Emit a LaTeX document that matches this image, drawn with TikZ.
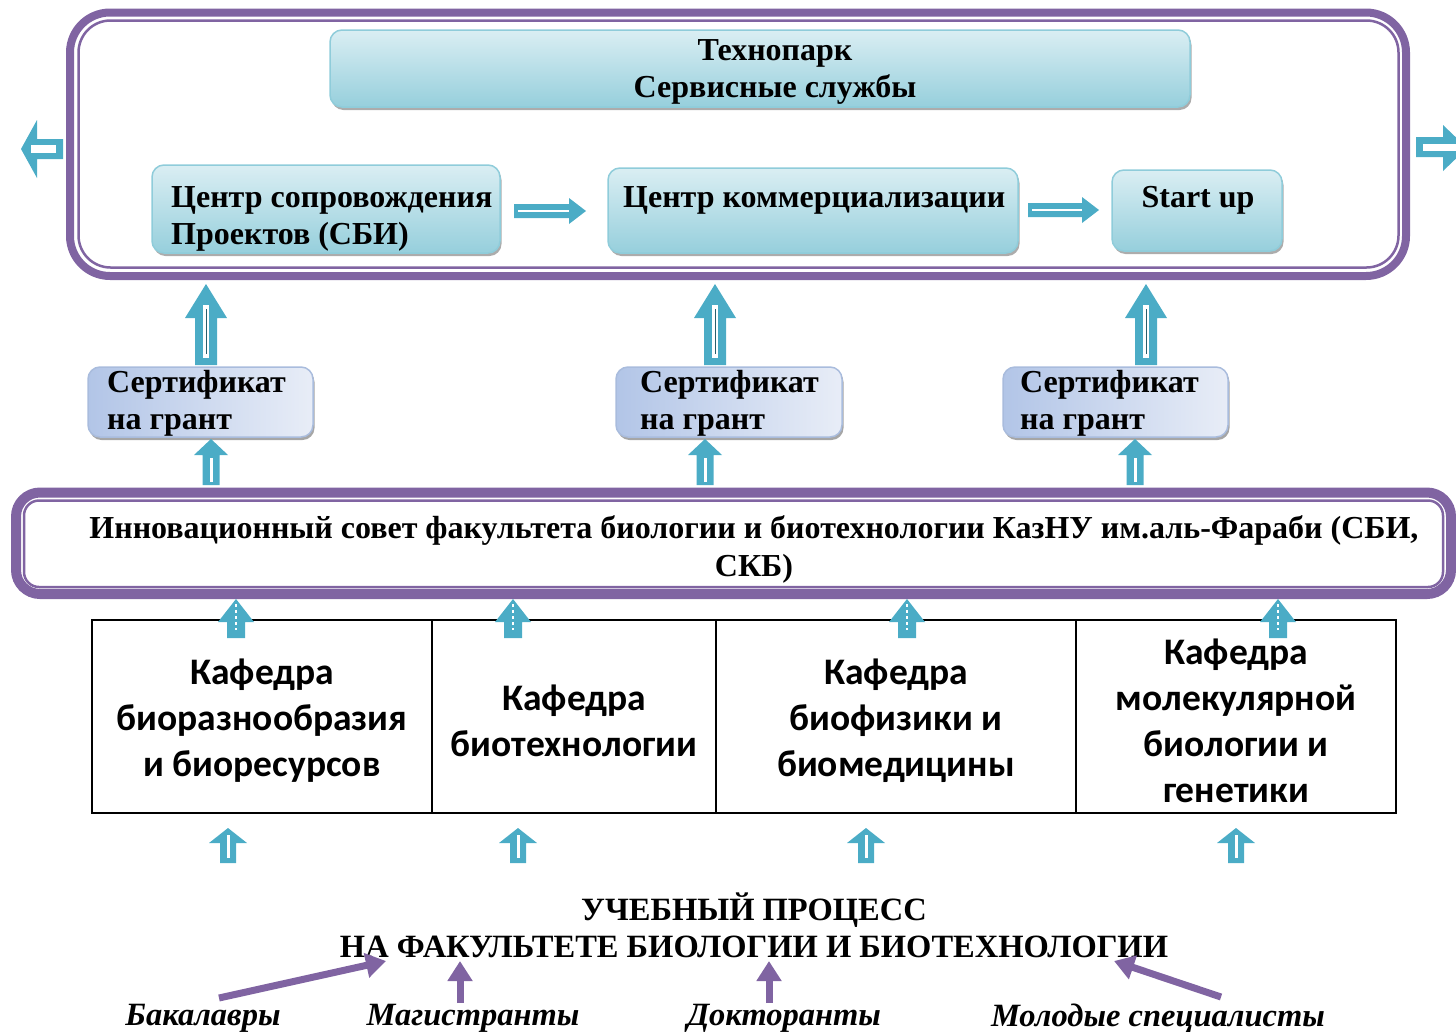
\documentclass[tikz,border=0pt]{standalone}
\usepackage{fontspec}
\setmainfont{Liberation Serif}
\newfontfamily\kafont{Carlito}
\usetikzlibrary{shadows,arrows.meta,calc}
\definecolor{purp}{HTML}{8064A2}
\definecolor{arrc}{HTML}{4BACC6}
\definecolor{tbord}{HTML}{8FCCDA}
\definecolor{tlight}{HTML}{DAEEF3}
\definecolor{tdark}{HTML}{96CFDC}
\definecolor{cbord}{HTML}{A9BCDD}
\definecolor{clight}{HTML}{E8EDF7}
\definecolor{cdark}{HTML}{B2C5E7}
% up block arrow: x, ytip, yheadbase, ybottom, halfhead, halfshaft
\newcommand\ArrUp[6]{\fill[arrc] ({#1-#6},#4) -- ({#1-#6},#3) -- ({#1-#5},#3) -- (#1,#2) -- ({#1+#5},#3) -- ({#1+#6},#3) -- ({#1+#6},#4) -- cycle;}
% right block arrow: xstart, xheadbase, xtip, y, halfhead, halfshaft
\newcommand\ArrRt[6]{\fill[arrc] (#1,{#4-#6}) -- (#2,{#4-#6}) -- (#2,{#4-#5}) -- (#3,#4) -- (#2,{#4+#5}) -- (#2,{#4+#6}) -- (#1,{#4+#6}) -- cycle;}
\begin{document}
\begin{tikzpicture}[x=1pt,y=-1pt,
  serif/.style={font=\fontsize{32}{37}\selectfont\bfseries, inner sep=0pt},
  tbox/.style={rounded corners=12pt, draw=tbord, line width=1.5pt,
     top color=tlight, middle color=tlight, bottom color=tdark,
     drop shadow={shadow xshift=1.5pt, shadow yshift=-3pt, opacity=1, fill=gray!65}},
  cbox/.style={rounded corners=12pt, draw=cbord, line width=1.5pt,
     left color=cdark, right color=clight,
     drop shadow={shadow xshift=1.5pt, shadow yshift=-3pt, opacity=1, fill=gray!70}},
  kcell/.style={draw=black, line width=2pt, minimum height=193pt, inner sep=0pt},
  ktext/.style={align=center, inner sep=0pt, font=\kafont\fontsize{37.5}{46}\selectfont\bfseries},
  parr/.style={draw=purp, line width=7pt, -{Triangle[length=20pt,width=24pt]}},
  lbl/.style={font=\fontsize{32.5}{37}\selectfont\bfseries\itshape, inner sep=0pt}
]
\useasboundingbox (0,0) rectangle (1456,1031);
% ---------- outer frame
\draw[purp, line width=8pt, rounded corners=40pt] (70,12.5) rectangle (1406,276);
\draw[purp, line width=2.5pt, rounded corners=32pt] (78.5,20.5) rectangle (1398.5,267.5);
% side arrows
\fill[arrc] (21,149) -- (37,120) -- (37,139) -- (63,139) -- (63,159) -- (37,159) -- (37,178) -- cycle;
\fill[white] (31,145) rectangle (56,153);
\fill[arrc] (1416,137) -- (1443,137) -- (1443,125) -- (1467,148) -- (1443,171) -- (1443,157) -- (1416,157) -- cycle;
\fill[white] (1423,143.5) rectangle (1460,150.5);
% ---------- top boxes
\node[tbox, minimum width=860pt, minimum height=77pt] (tp) at (760,68.5) {};
\node[serif, align=center] (tpt) at (775,72) {Технопарк\\Сервисные службы};
\node[tbox, minimum width=348pt, minimum height=88pt] (b1) at (326,209) {};
\node[serif, align=left, anchor=west] (b1t) at (171,219) {Центр сопровождения\\Проектов (СБИ)};
\node[tbox, minimum width=410pt, minimum height=85pt] (b2) at (813,210.5) {};
\node[serif, anchor=west] (b2t) at (623,200) {Центр коммерциализации};
\node[tbox, minimum width=170pt, minimum height=81pt] (b3) at (1197,210.5) {};
\node[serif] (b3t) at (1198,200) {Start up};
\ArrRt{514}{569}{586}{211}{13}{7}
\draw[white, line width=2.5pt] (518,211) -- (569,211);
\ArrRt{1028}{1082}{1099}{210}{13}{7}
\draw[white, line width=2.5pt] (1032,210) -- (1082,210);
% ---------- big up arrows
\foreach \xx in {206,715,1146}{
  \ArrUp{\xx}{284}{318}{365}{21}{11}
  \fill[white] ({\xx-3},305) rectangle ({\xx+3},358);
  \draw[arrc!55!black, line width=0.8pt] (\xx,309) -- (\xx,354);
}
% ---------- certificate boxes
\node[cbox, minimum width=225pt, minimum height=70pt] (c1) at (200.5,402) {};
\node[serif, align=left, anchor=west] (c1t) at (107,403) {Сертификат\\на грант};
\node[cbox, minimum width=226pt, minimum height=70pt] (c2) at (729,402) {};
\node[serif, align=left, anchor=west] (c2t) at (640,403) {Сертификат\\на грант};
\node[cbox, minimum width=225pt, minimum height=70pt] (c3) at (1115.5,402) {};
\node[serif, align=left, anchor=west] (c3t) at (1020,403) {Сертификат\\на грант};
% small up arrows
\foreach \xx in {211,705,1135}{
  \ArrUp{\xx}{439}{455}{485}{17}{8.5}
  \fill[white] ({\xx-1.5},458) rectangle ({\xx+1.5},482);
}
% ---------- innovation council frame
\draw[purp, line width=10pt, rounded corners=24pt] (16,492.5) rectangle (1451,594);
\draw[purp, line width=2.5pt, rounded corners=15pt] (24,500.5) rectangle (1443,587);
\node[serif, align=center, font=\fontsize{32}{38}\selectfont\bfseries] (inn) at (754,549)
  {Инновационный совет факультета биологии и биотехнологии КазНУ им.аль-Фараби (СБИ,\\СКБ)};
% ---------- departments
\node[kcell, minimum width=340pt] (k1) at (262,716.5) {};
\node[kcell, minimum width=284pt] (k2) at (574,716.5) {};
\node[kcell, minimum width=360pt] (k3) at (896,716.5) {};
\node[kcell, minimum width=320pt] (k4) at (1236,716.5) {};
\node[ktext] (k1t) at (262,721) {Кафедра\\биоразнообразия\\и биоресурсов};
\node[ktext] (k2t) at (574,721) {Кафедра\\биотехнологии};
\node[ktext] (k3t) at (896,721) {Кафедра\\биофизики и\\биомедицины};
\node[ktext] (k4t) at (1236,721) {Кафедра\\молекулярной\\биологии и\\генетики};
\foreach \xx in {236,513,907,1278}{
  \ArrUp{\xx}{599}{622}{638}{18}{9}
  \draw[white, line width=1.2pt, dash pattern=on 3pt off 3pt] (\xx,604) -- (\xx,630);
}
\foreach \xx in {228,518,866,1236}{
  \ArrUp{\xx}{828}{843}{863}{19}{8}
  \fill[white] ({\xx-1.5},835) rectangle ({\xx+1.5},858);
}
% ---------- educational process
\node[serif, align=center, font=\fontsize{32.5}{37}\selectfont\bfseries] (up) at (754,925)
  {УЧЕБНЫЙ ПРОЦЕСС\\НА ФАКУЛЬТЕТЕ БИОЛОГИИ И БИОТЕХНОЛОГИИ};
\node[lbl] (l1) at (203,1018) {Бакалавры};
\node[lbl] (l2) at (473,1018) {Магистранты};
\node[lbl] (l3) at (784,1018) {Докторанты};
\node[lbl] (l4) at (1158,1018) {Молодые специалисты};
\coordinate (a1s) at (219,998); \coordinate (a1e) at (386,961);
\coordinate (a2s) at (460,1003); \coordinate (a2e) at (460,961);
\coordinate (a3s) at (769,1003); \coordinate (a3e) at (769,961);
\coordinate (a4s) at (1221,997); \coordinate (a4e) at (1114,961);
\draw[parr] (a1s) -- (a1e);
\draw[parr] (a2s) -- (a2e);
\draw[parr] (a3s) -- (a3e);
\draw[parr] (a4s) -- (a4e);
\end{tikzpicture}
\end{document}
